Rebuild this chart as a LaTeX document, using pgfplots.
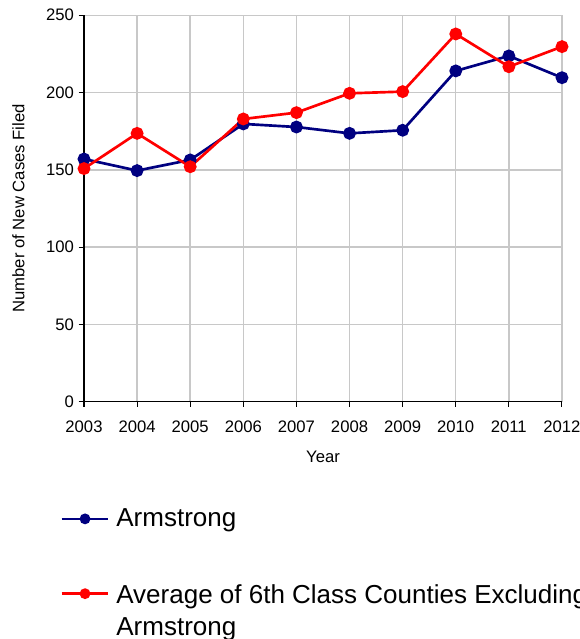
\documentclass[border=0pt]{standalone}
\usepackage{pgfplots}
\pgfplotsset{compat=1.18}
\usepackage{fontspec}
\setmainfont{Liberation Sans}
\definecolor{navyc}{RGB}{0,0,128}
\definecolor{redc}{RGB}{255,0,0}
\definecolor{gridc}{RGB}{200,200,200}
\begin{document}
\begin{tikzpicture}[trim left=0pt, trim right=435pt]
\path (0,0) rectangle (435pt,479.25pt);
\begin{axis}[
  at={(63pt,178pt)}, anchor=south west,
  scale only axis, width=358.5pt, height=289.8pt,
  xmin=2003, xmax=2012, ymin=0, ymax=250,
  xtick={2003,...,2012}, ytick={0,50,...,250},
  axis x line*=bottom, axis y line*=left,
  axis line style={black, line width=1.1pt, -},
  grid=major, major grid style={gridc, line width=1.1pt},
  tick align=outside, major tick length=4pt,
  tick style={black, line width=0.8pt},
  /pgf/number format/assume math mode=true,
  xticklabel style={/pgf/number format/1000 sep={}, yshift=-6.5pt},
  ticklabel style={font=\fontsize{12.5}{15}\selectfont},
  xlabel={Year}, ylabel={Number of New Cases Filed},
  every axis x label/.style={at={(axis description cs:0.5,-0.142)}, anchor=center, font=\fontsize{12.5}{15}\selectfont},
  every axis y label/.style={at={(axis description cs:-0.137,0.5)}, rotate=90, anchor=center, font=\fontsize{12.5}{15}\selectfont},
  legend style={at={(axis description cs:-0.05,-0.27)}, anchor=north west, draw=none, fill=none,
    font=\fontsize{19.5}{24}\selectfont, row sep=35.5pt, inner sep=0pt,
    nodes={inner sep=2pt}},
  legend cell align=left,
  legend image code/.code={\draw[mark repeat=2,mark phase=2,mark size=3pt] plot coordinates {(0pt,0pt) (17.5pt,0pt) (35pt,0pt)};},
]
\addplot[navyc, line width=2pt, mark=*, mark size=3.8pt, mark options={fill=navyc, draw=navyc}] coordinates {
(2003,157.0) (2004,149.5) (2005,156.4) (2006,179.7) (2007,177.7) (2008,173.6) (2009,175.6) (2010,214.0) (2011,223.7) (2012,209.6)};
\addlegendentry{\hspace{3pt}Armstrong}
\addplot[redc, line width=2pt, mark=*, mark size=3.8pt, mark options={fill=redc, draw=redc}] coordinates {
(2003,150.8) (2004,173.6) (2005,152.0) (2006,182.9) (2007,187.0) (2008,199.5) (2009,200.6) (2010,237.9) (2011,216.7) (2012,229.7)};
\addlegendentry{\begin{tabular}[t]{@{\hspace{3pt}}l@{}}Average of 6th Class Counties Excluding\\Armstrong\end{tabular}}
\end{axis}
\end{tikzpicture}
\end{document}
